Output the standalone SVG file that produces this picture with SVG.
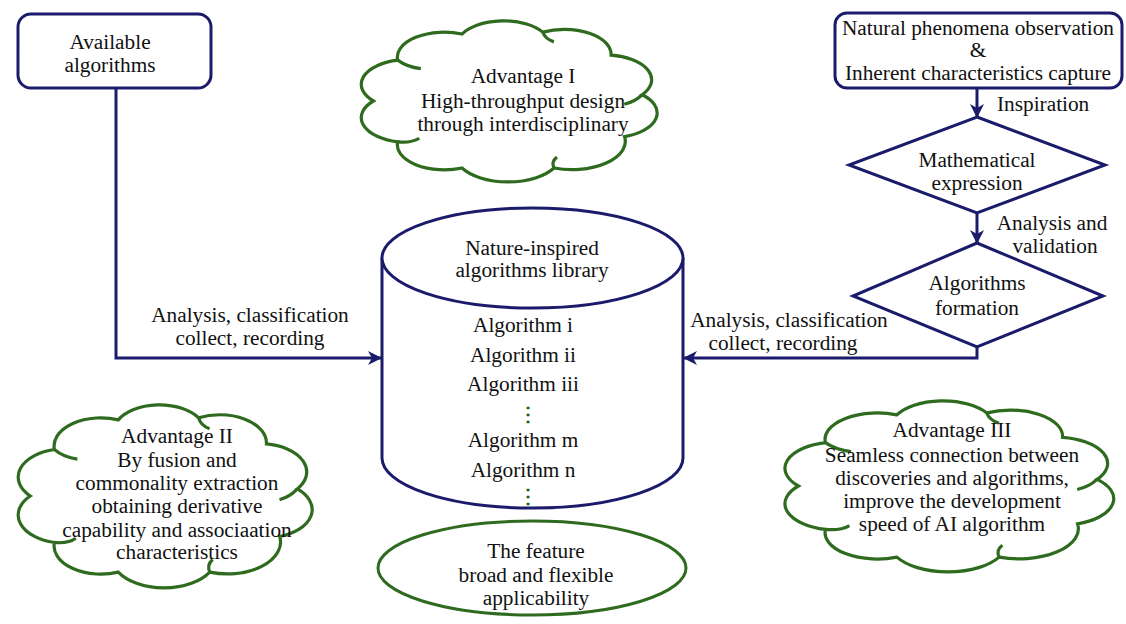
<svg xmlns="http://www.w3.org/2000/svg" xmlns:xlink="http://www.w3.org/1999/xlink" width="1126" height="624" viewBox="0 0 1126 624">
<style>
.t{font-family:"Liberation Serif","Times New Roman",serif;font-size:21.3px;fill:#111;text-anchor:middle}
.ts{font-family:"Liberation Serif","Times New Roman",serif;font-size:21.3px;fill:#111;text-anchor:start}
.nv{fill:#fff;stroke:#1b1b6b;stroke-width:3}
.gr{fill:#fff;stroke:#2e6b1f;stroke-width:3}
.cl{fill:#fff;stroke:#2e6b1f;stroke-width:3.2;vector-effect:non-scaling-stroke}
.ci{fill:none;stroke:#2e6b1f;stroke-width:3.2;vector-effect:non-scaling-stroke}
.ln{fill:none;stroke:#1b1b6b;stroke-width:3}
.dots{font-family:"DejaVu Serif",serif;font-size:20px;font-weight:bold;fill:#2a5a1c;text-anchor:middle}
</style>
<defs>
<marker id="ah" markerUnits="userSpaceOnUse" markerWidth="16" markerHeight="16" refX="13" refY="7" orient="auto">
<path d="M0,0 L14,7 L0,14 L4,7 Z" fill="#1b1b6b"/>
</marker>
<g id="cloud">
<path class="cl" d="M -88 0 A 30.7 30.7 0 0 1 -72.1 -50.5 A 30.7 30.7 0 0 1 -30.1 -82.7 A 30.7 30.7 0 0 1 22.8 -85 A 30.7 30.7 0 0 1 67.4 -56.6 A 30.7 30.7 0 0 1 87.7 -7.7 A 30.7 30.7 0 0 1 76.2 44 A 34.9 34.9 0 0 1 30.1 82.7 A 34.9 34.9 0 0 1 -30.1 82.7 A 30.7 30.7 0 0 1 -72.1 50.5 A 30.7 30.7 0 0 1 -88 0 Z"/>
<path class="ci" d="M -72.1 -50.5 Q -66 -42 -57 -40"/>
<path class="ci" d="M 22.8 -85 Q 24 -77 30 -73"/>
<path class="ci" d="M 87.7 -7.7 Q 83 1 76 4"/>
<path class="ci" d="M 30.1 82.7 Q 28 75 32 69"/>
<path class="ci" d="M -72.1 50.5 Q -63 52 -58 46"/>
</g>
</defs>
<rect width="1126" height="624" fill="#fff"/>

<g id="connectors">
<polyline class="ln" points="116,88 116,358 381,358" marker-end="url(#ah)"/>
<polyline class="ln" points="977,346 977,358 684,358" marker-end="url(#ah)"/>
<line class="ln" x1="977" y1="88" x2="977" y2="117" marker-end="url(#ah)"/>
<line class="ln" x1="977" y1="213" x2="977" y2="243" marker-end="url(#ah)"/>
<text class="t" x="250" y="322">Analysis, classification</text>
<text class="t" x="250" y="345">collect, recording</text>
<text class="t" x="789" y="327">Analysis, classification</text>
<text class="t" x="783" y="350">collect, recording</text>
<text class="ts" x="997" y="111">Inspiration</text>
<text class="t" x="1052" y="230">Analysis and</text>
<text class="t" x="1055" y="253">validation</text>
</g>

<g id="available">
<rect class="nv" x="18" y="14" width="193" height="74" rx="13"/>
<text class="t" x="110" y="49">Available</text>
<text class="t" x="110" y="72">algorithms</text>
</g>

<g id="natural">
<rect class="nv" x="835" y="13" width="287" height="75" rx="12"/>
<text class="t" x="978" y="35">Natural phenomena observation</text>
<text class="t" x="978" y="57">&amp;</text>
<text class="t" x="978" y="80">Inherent characteristics capture</text>
</g>

<g id="math">
<polygon class="nv" points="977,117 1105,165 977,213 849,165"/>
<text class="t" x="977" y="167">Mathematical</text>
<text class="t" x="977" y="190">expression</text>
</g>

<g id="formation">
<polygon class="nv" points="977,243 1103,296 977,347 853,296"/>
<text class="t" x="977" y="290">Algorithms</text>
<text class="t" x="977" y="315">formation</text>
</g>

<g id="library">
<path class="nv" d="M 382 258 L 382 458 A 150.5 50 0 0 0 683 458 L 683 258"/>
<ellipse class="nv" cx="532.5" cy="258" rx="150.5" ry="50"/>
<text class="t" x="532" y="255">Nature-inspired</text>
<text class="t" x="532" y="277">algorithms library</text>
<text class="t" x="523" y="332">Algorithm i</text>
<text class="t" x="523" y="362">Algorithm ii</text>
<text class="t" x="523" y="391">Algorithm iii</text>
<text class="dots" x="528" y="421">⋮</text>
<text class="t" x="523" y="447">Algorithm m</text>
<text class="t" x="523" y="477">Algorithm n</text>
<text class="dots" x="528" y="503">⋮</text>
</g>

<g id="feature">
<ellipse class="gr" cx="532" cy="568" rx="154" ry="47"/>
<text class="t" x="536" y="558">The feature</text>
<text class="t" x="536" y="582">broad and flexible</text>
<text class="t" x="536" y="605">applicability</text>
</g>

<g id="adv1">
<use xlink:href="#cloud" transform="translate(508,101) scale(1.53,0.81)"/>
<text class="t" x="523" y="83">Advantage I</text>
<text class="t" x="523" y="108">High-throughput design</text>
<text class="t" x="523" y="131">through interdisciplinary</text>
</g>

<g id="adv2">
<use xlink:href="#cloud" transform="translate(164,496) scale(1.52,0.92)"/>
<text class="t" x="177" y="443">Advantage II</text>
<text class="t" x="177" y="467">By fusion and</text>
<text class="t" x="177" y="490">commonality extraction</text>
<text class="t" x="177" y="513">obtaining derivative</text>
<text class="t" x="177" y="537">capability and associaation</text>
<text class="t" x="177" y="559">characteristics</text>
</g>

<g id="adv3">
<use xlink:href="#cloud" transform="translate(948,486) scale(1.70,0.86)"/>
<text class="t" x="952" y="437">Advantage III</text>
<text class="t" x="952" y="462">Seamless connection between</text>
<text class="t" x="952" y="485">discoveries and algorithms,</text>
<text class="t" x="952" y="508">improve the development</text>
<text class="t" x="952" y="531">speed of AI algorithm</text>
</g>
</svg>
